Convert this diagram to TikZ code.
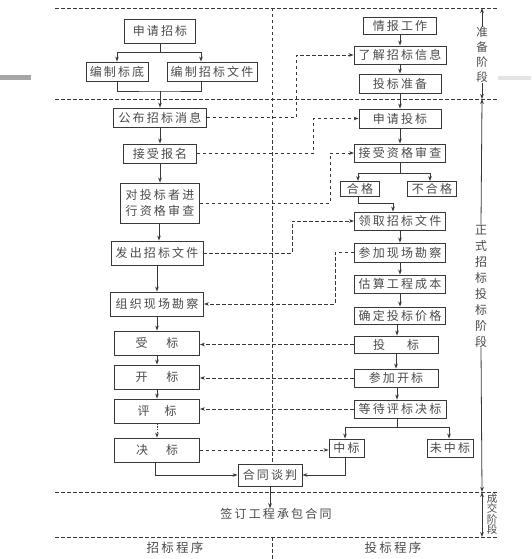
\documentclass[tikz,border=0pt]{standalone}
\usepackage{fontspec}
\setmainfont{Noto Sans CJK SC}[LetterSpace=18]
\newfontfamily\plaincjk{Noto Sans CJK SC}
\usetikzlibrary{positioning,arrows.meta,calc}
\definecolor{LineGray}{HTML}{383838}
\definecolor{TextGray}{HTML}{4A4A4A}
\tikzset{
  box/.style={draw=LineGray,line width=0.9pt,text=TextGray,inner sep=0pt,align=center,
    font=\fontsize{12}{16}\selectfont},
  lbox/.style={box,minimum height=24pt},
  rbox/.style={box,minimum height=18pt},
  arr/.style={draw=LineGray,line width=0.8pt,-{Stealth[length=5pt,width=3.6pt]}},
  dsh/.style={draw=LineGray,line width=0.8pt,dash pattern=on 3.5pt off 2.5pt},
  stage/.style={text=TextGray,inner sep=0pt,align=center},
}

\begin{document}
\begin{tikzpicture}[x=1pt,y=-1pt]
\useasboundingbox (0,0) rectangle (531,559);
\fill[gray!70] (0,75) rectangle (31,80);
\fill[gray!20] (498,76) rectangle (531,80);
% phase borders
\foreach \yy in {8,99,492,537}
  \draw[dsh] (55,\yy) -- (498,\yy);
\draw[dsh] (272,8) -- (272,464);
\draw[dsh] (272,537) -- (272,559);

% tendering side
\node[lbox,minimum width=71pt] (sqzb) at (160,31) {申请招标};
\node[box,minimum width=62pt,minimum height=19pt] (bzbd) at (117,71.5) {编制标底};
\node[box,minimum width=90pt,minimum height=19pt] (bzwj) at (212,71.5) {编制招标文件};
\node[box,minimum width=93pt,minimum height=19pt] (gbxx) at (160,117.5) {公布招标消息};
\node[box,minimum width=73pt,minimum height=19pt] (jsbm) at (160,153.5) {接受报名};
\node[box,minimum width=79pt,minimum height=40pt] (zgsc) at (160,203) {对投标者进\\行资格审查};
\node[lbox,minimum width=92pt] (fcwj) at (157,253) {发出招标文件};
\node[lbox,minimum width=93pt] (zzkc) at (157,304) {组织现场勘察};
\node[lbox,minimum width=85pt] (shoub) at (157,343) {受\hspace{19pt}标};
\node[lbox,minimum width=85pt] (kaib) at (157,377) {开\hspace{19pt}标};
\node[lbox,minimum width=85pt] (pingb) at (157,411) {评\hspace{15pt}标};
\node[lbox,minimum width=85pt] (jueb) at (157,450) {决\hspace{18pt}标};
\node[box,minimum width=64pt,minimum height=22pt] (http) at (270,475) {合同谈判};

% bidding side
\node[box,minimum width=73pt,minimum height=17pt] (qbgz) at (400,26) {情报工作};
\node[rbox,minimum width=92pt] (ljxx) at (400,55) {了解招标信息};
\node[rbox,minimum width=82pt,minimum height=19pt] (tbzb) at (400,83.5) {投标准备};
\node[rbox,minimum width=82pt,minimum height=19pt] (sqtb) at (400,118.5) {申请投标};
\node[rbox,minimum width=91pt] (jszg) at (400,153) {接受资格审查};
\node[box,minimum width=39pt,minimum height=15pt] (hege) at (360,189) {合格};
\node[box,minimum width=49pt,minimum height=15pt] (buhege) at (432,189) {不合格};
\node[rbox,minimum width=91pt] (lqwj) at (400,221) {领取招标文件};
\node[rbox,minimum width=91pt,minimum height=19pt] (cjkc) at (400,252.5) {参加现场勘察};
\node[rbox,minimum width=91pt] (gscb) at (400,284) {估算工程成本};
\node[rbox,minimum width=91pt,minimum height=17pt] (qdjg) at (400,315.5) {确定投标价格};
\node[rbox,minimum width=84pt,minimum height=17pt] (toub) at (396,344.5) {投\hspace{22pt}标};
\node[rbox,minimum width=84pt] (cjkb) at (396,378) {参加开标};
\node[rbox,minimum width=92pt] (ddpb) at (400,409) {等待评标决标};
\node[rbox,minimum width=35pt] (zhongb) at (346.5,448) {中标};
\node[rbox,minimum width=46pt] (wzb) at (450,448) {未中标};

% texts outside boxes
\node[stage,font=\fontsize{12}{14}\selectfont] (qdht) at (276,514) {签订工程承包合同};
\node[stage,font=\fontsize{12.5}{14}\selectfont] (zbcx) at (175,548) {招标程序};
\node[stage,font=\fontsize{12.5}{14}\selectfont] (tbcx) at (393,548) {投标程序};
\node[stage,font=\plaincjk\fontsize{11.5}{15}\selectfont] (zbjd) at (482,55) {准\\备\\阶\\段};
\node[stage,font=\plaincjk\fontsize{12}{16}\selectfont] (zsjd) at (481,286) {正\\式\\招\\标\\投\\标\\阶\\段};
\node[stage,font=\plaincjk\fontsize{10.5}{10.5}\selectfont] (cjjd) at (492,514) {成\\交\\阶\\段};

% solid flow, tendering
\coordinate (s1) at (160,52);
\coordinate (m1) at (160,91);
\draw[draw=LineGray,line width=0.8pt] (sqzb) -- (s1);
\draw[arr] (s1) -| (bzbd.north);
\draw[arr] (s1) -| ([xshift=-11pt]bzwj.north);
\draw[draw=LineGray,line width=0.8pt] (bzbd.south) |- (m1) -| ([xshift=-11pt]bzwj.south);
\draw[arr] (m1) -- (gbxx);
\draw[arr] (gbxx) -- (jsbm);
\draw[arr] (jsbm) -- (zgsc);
\draw[arr] ([xshift=-1pt]zgsc.south) -- ([xshift=-1pt]zgsc.south |- fcwj.north);
\draw[arr] (fcwj) -- (zzkc);
\draw[arr] (zzkc) -- (shoub);
\draw[arr] (shoub) -- (kaib);
\draw[arr] (kaib) -- (pingb);
\draw[arr,dash pattern=on 1.5pt off 1.2pt] (pingb) -- (jueb);
\draw[arr] ([xshift=-2pt]jueb.south) |- (http.west);
\draw[arr] (http.south) -- (http.south |- qdht.north);

% solid flow, bidding
\coordinate (s2) at (400,173);
\coordinate (h1) at (393,203);
\coordinate (s3) at (397,427);
\draw[arr] (qbgz) -- (ljxx);
\draw[arr] (ljxx) -- (tbzb);
\draw[arr] (tbzb) -- (sqtb);
\draw[arr] (sqtb) -- (jszg);
\draw[draw=LineGray,line width=0.8pt] (jszg) -- (s2);
\draw[arr] (s2) -| ([xshift=-2pt]hege.north);
\draw[arr] (s2) -| ([xshift=-2pt]buhege.north);
\draw[arr] ([xshift=-2pt]hege.south) |- (h1) -- (h1 |- lqwj.north);
\draw[arr] (lqwj) -- (cjkc);
\draw[arr] (cjkc) -- (gscb);
\draw[arr] (gscb) -- (qdjg);
\draw[arr] ([xshift=-3pt]qdjg.south) -- ([xshift=-3pt]qdjg.south |- toub.north);
\draw[arr] (toub) -- (cjkb);
\draw[arr] ([xshift=1pt]cjkb.south) -- ([xshift=1pt]cjkb.south |- ddpb.north);
\draw[draw=LineGray,line width=0.8pt] ([xshift=-3pt]ddpb.south) -- (s3);
\draw[arr] (s3) -| ([xshift=-1.5pt]zhongb.north);
\draw[arr] (s3) -| ([xshift=-1pt]wzb.north);
\draw[arr] ([xshift=-1.5pt]zhongb.south) |- (http.east);

% dashed links between the two sides
\draw[dsh,arr] (gbxx.east) -| ([xshift=-57pt]ljxx.west) -- (ljxx.west);
\draw[dsh,arr] (jsbm.east) -| ([xshift=-45pt]sqtb.west) -- (sqtb.west);
\draw[dsh,arr] (zgsc.east) -| ([xshift=-24pt]jszg.west) -- (jszg.west);
\draw[dsh,arr] (fcwj.east) -| ([xshift=-62pt]lqwj.west) -- (lqwj.west);
\draw[dsh,arr] (cjkc.west) -| ([xshift=131pt]zzkc.east) -- (zzkc.east);
\draw[dsh,arr] (toub.west) -- (toub.west -| shoub.east);
\draw[dsh,arr] (cjkb.west) -- (cjkb.west -| kaib.east);
\draw[dsh,arr] (ddpb.west) -- (ddpb.west -| pingb.east);
\draw[dsh,arr] (jueb.east) -- (jueb.east -| zhongb.west);

% phase arrows
\coordinate (p0) at (482,8);
\coordinate (p1) at (482,99);
\coordinate (p2) at (482,492);
\coordinate (p3) at (482,537);
\draw[arr] (zbjd.north) -- (p0);
\draw[arr] (zbjd.south) -- (p1);
\draw[arr] (zsjd.north) -- (p1);
\draw[arr] (zsjd.south) -- (p2);
\draw[arr,{Stealth[length=5pt,width=3.6pt]}-{Stealth[length=5pt,width=3.6pt]}] (p2) -- (p3);
\end{tikzpicture}
\end{document}
